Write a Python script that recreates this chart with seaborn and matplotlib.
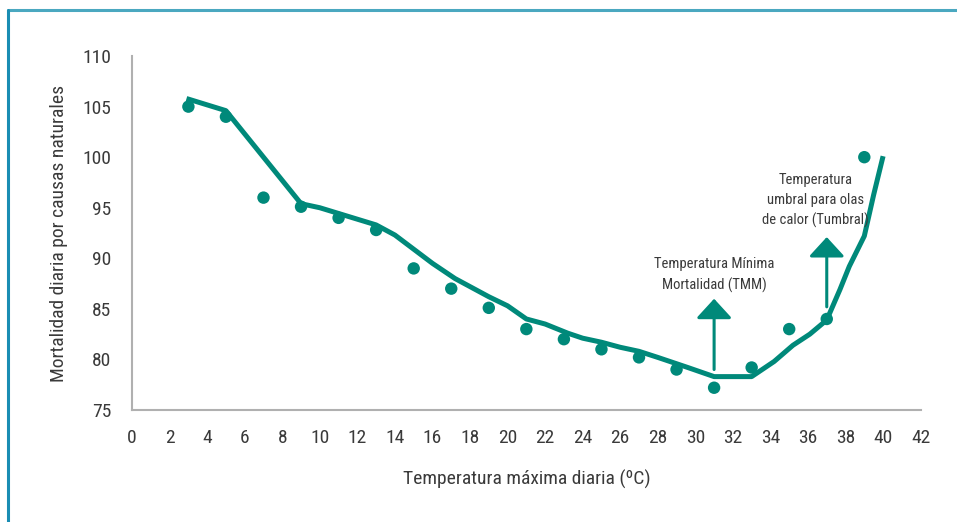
import numpy as np
import pandas as pd
import matplotlib
matplotlib.use("Agg")
import matplotlib.pyplot as plt
from matplotlib import font_manager as fm
from matplotlib.lines import Line2D
import seaborn as sns

# observed daily mortality (dots)
obs_temp = [3, 5, 7, 9, 11, 13, 15, 17, 19, 21, 23, 25, 27, 29, 31, 33, 35, 37, 39]
obs_mort = [105.0, 104.0, 96.0, 95.1, 94.0, 92.8, 89.0, 87.0, 85.1, 83.0, 82.0,
            81.0, 80.2, 79.0, 77.2, 79.2, 83.0, 84.0, 100.0]

# fitted curve
fit_temp = [2.9, 5, 9, 10, 13, 14, 16, 17.2, 19, 20, 21, 22, 23.2, 24, 25, 26,
            27, 28, 29.6, 31, 33, 34.2, 35.2, 36.1, 37, 37.7, 38.2, 39, 39.5, 40]
fit_mort = [105.8, 104.6, 95.4, 95.0, 93.3, 92.3, 89.5, 88.0, 86.2, 85.3, 84.0,
            83.5, 82.6, 82.1, 81.7, 81.2, 80.8, 80.2, 79.2, 78.3, 78.3, 79.8,
            81.4, 82.5, 83.9, 86.9, 89.2, 92.2, 96.3, 100.1]

xticks = list(range(0, 43, 2))
yticks = list(range(75, 111, 5))

TEAL = "#00897a"
GREY_TXT = "#3a3a3a"
SPINE = "#b0b0b0"


def pick_narrow_font():
    """Look for a condensed / narrow regular face among installed fonts."""
    prefs = ["liberationsansnarrow-regular", "robotocondensed-regular",
             "dejavusanscondensed.", "notosans-condensed.", "opensans-condensed",
             "narrow", "condensed"]
    entries = [f for f in fm.fontManager.ttflist
               if f.style == "normal" and f.weight in (400, "normal", "regular")]
    for key in prefs:
        for f in entries:
            if key in f.fname.lower().replace(" ", "").replace("_", ""):
                return f
    return None


sns.set_style("white")
narrow = pick_narrow_font()
if narrow is not None:
    plt.rcParams["font.family"] = [narrow.name, "DejaVu Sans"]
    plt.rcParams["font.stretch"] = narrow.stretch
else:
    plt.rcParams["font.family"] = ["DejaVu Sans"]

fig = plt.figure(figsize=(9.57, 5.22), dpi=100)
ax = fig.add_axes([0.138, 0.2146, 0.824, 0.678])

obs = pd.DataFrame({"temp": obs_temp, "mort": obs_mort})
fit = pd.DataFrame({"temp": fit_temp, "mort": fit_mort})

sns.lineplot(data=fit, x="temp", y="mort", ax=ax, color=TEAL, lw=3.6,
             sort=False, solid_capstyle="butt", zorder=2)
sns.scatterplot(data=obs, x="temp", y="mort", ax=ax, color=TEAL, s=80,
                edgecolor="none", zorder=3)

# arrows with notes
arrow_kw = dict(arrowstyle="-|>,head_width=1.1,head_length=1.2",
                color=TEAL, lw=2.2, shrinkA=0, shrinkB=0)
ax.annotate("", xy=(31, 86.0), xytext=(31, 79.0), arrowprops=arrow_kw)
ax.annotate("", xy=(37, 92.1), xytext=(37, 85.2), arrowprops=arrow_kw)

ax.text(31, 86.6, "Temperatura Mínima\nMortalidad (TMM)", ha="center",
        va="bottom", fontsize=10.5, color=GREY_TXT, linespacing=1.5)
ax.text(36.4, 93.0, "Temperatura\numbral para olas\nde calor (Tumbral)",
        ha="center", va="bottom", fontsize=10.5, color=GREY_TXT, linespacing=1.5)

ax.set_xlim(0, 42)
ax.set_ylim(75, 110)
ax.set_xticks(xticks)
ax.set_yticks(yticks)
ax.tick_params(axis="both", length=0, labelsize=14, colors=GREY_TXT)
ax.tick_params(axis="x", pad=14)
ax.tick_params(axis="y", pad=15)

ax.set_xlabel("Temperatura máxima diaria (ºC)", fontsize=14, color=GREY_TXT,
              labelpad=16)
ax.set_ylabel("Mortalidad diaria por causas naturales", fontsize=14,
              color=GREY_TXT, labelpad=10)

for side in ["top", "right"]:
    ax.spines[side].set_visible(False)
for side in ["left", "bottom"]:
    ax.spines[side].set_color(SPINE)
    ax.spines[side].set_linewidth(1.5)

# frame lines on top and left of the figure
fig.add_artist(Line2D([8 / 957, 1], [1 - 10 / 522, 1 - 10 / 522],
                      color="#4aa8c0", lw=2.2, transform=fig.transFigure))
fig.add_artist(Line2D([8 / 957, 8 / 957], [0, 1 - 10 / 522],
                      color="#1a8db3", lw=2.2, transform=fig.transFigure))

fig.savefig("out.png", dpi=100)
